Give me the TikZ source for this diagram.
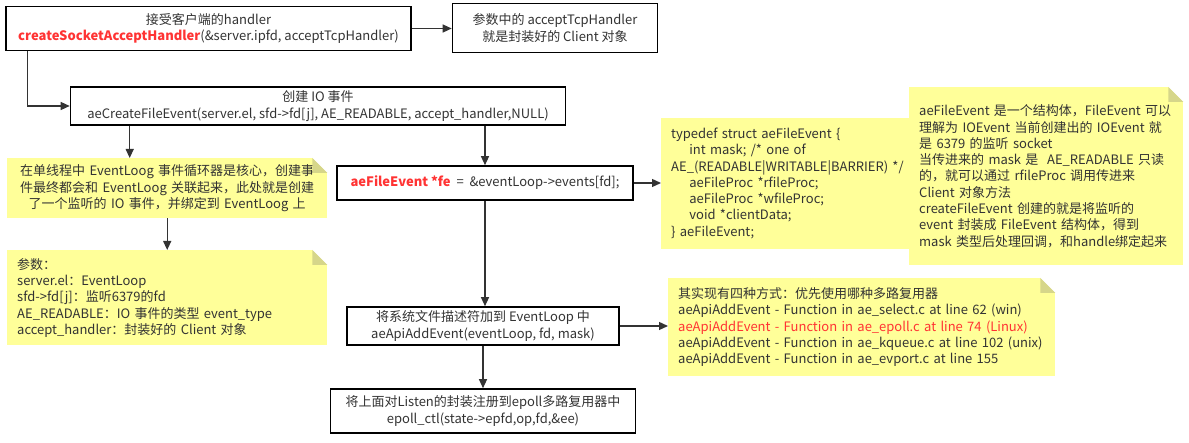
\documentclass[tikz,border=0pt]{standalone}
\usepackage{fontspec}
\setmainfont{Noto Sans CJK SC}
\usetikzlibrary{arrows.meta}

\definecolor{notefill}{HTML}{FFFF99}
\definecolor{notefold}{HTML}{D6D68A}
\definecolor{txtgray}{HTML}{333333}
\definecolor{hired}{HTML}{FF3333}

% folded top right corner of a note
\newcommand{\notefold}[1]{%
    \fill[white] (#1.north east) -- ++(-15,0) -- ++(15,15) -- cycle;
    \fill[notefold] ([xshift=-15pt]#1.north east) -- ++(0,15) -- ++(15,0) -- cycle;}

\begin{document}
\begin{tikzpicture}[x=1pt, y=-1pt,
    every node/.style={font=\fontsize{13}{16.3}\selectfont, text=txtgray},
    box/.style={draw=black, line width=1.6pt, fill=white, align=center, inner sep=0pt},
    note/.style={fill=notefill, inner xsep=10pt, inner ysep=0pt, align=left, anchor=north west},
    arr/.style={-{Triangle[length=9pt, width=8pt]}, line width=1.3pt, draw=txtgray}]
    \useasboundingbox (0,0) rectangle (1189,443);

    % Draw nodes
    \node[box, minimum width=405pt, minimum height=44pt] (b1) at (208.5,28.5)
        {接受客户端的handler\\{\bfseries\color{hired}createSocketAcceptHandler}(\&server.ipfd, acceptTcpHandler)};
    \node[box, minimum width=205pt, minimum height=49pt] (b2) at (555,28)
        {参数中的 acceptTcpHandler\\就是封装好的 Client 对象};
    \node[box, minimum width=495pt, minimum height=38pt] (b3) at (318,106)
        {创建 IO 事件\\aeCreateFileEvent(server.el, sfd->fd[j], AE\_READABLE, accept\_handler,NULL)};
    \node[box, minimum width=296pt, minimum height=34pt] (b4) at (485,183)
        {{\bfseries\color{hired}aeFileEvent *fe} \ = \ \&eventLoop->events[fd];};
    \node[box, minimum width=272pt, minimum height=38pt] (b5) at (483,326)
        {将系统文件描述符加到 EventLoop 中\\aeApiAddEvent(eventLoop, fd, mask)};
    \node[box, minimum width=305pt, minimum height=44pt] (b6) at (483,411)
        {将上面对Listen的封装注册到epoll多路复用器中\\epoll\_ctl(state->epfd,op,fd,\&ee)};

    % Notes
    \node[note, align=center, minimum width=320pt, minimum height=60pt, text width=300pt] (n1) at (7,158)
        {在单线程中 EventLoog 事件循环器是核心，创建事\\件最终都会和 EventLoog 关联起来，此处就是创建\\了一个监听的 IO 事件，并绑定到 EventLoog 上};
    \node[note, minimum height=95pt, text width=300pt] (n2) at (7,250)
        {参数：\\server.el：EventLoop\\sfd->fd[j]：监听6379的fd\\AE\_READABLE：IO 事件的类型 event\_type\\accept\_handler：封装好的 Client 对象};
    \node[note, minimum height=131pt, text width=242pt] (n3) at (661,118)
        {typedef struct aeFileEvent \{\\\hspace*{1.4em}int mask; /* one of\\AE\_(READABLE|WRITABLE|BARRIER) */\\\hspace*{1.4em}aeFileProc *rfileProc;\\\hspace*{1.4em}aeFileProc *wfileProc;\\\hspace*{1.4em}void *clientData;\\\} aeFileEvent;\vphantom{g}\\[24pt]};
    \node[note, minimum height=178pt, text width=254pt] (n5) at (909,87)
        {aeFileEvent 是一个结构体，FileEvent 可以\\理解为 IOEvent 当前创建出的 IOEvent 就\\是 6379 的监听 socket\\当传进来的 mask 是 \ AE\_READABLE 只读\\的，就可以通过 rfileProc 调用传进来\\Client 对象方法\\createFileEvent 创建的就是将监听的\\event 封装成 FileEvent 结构体，得到\\mask 类型后处理回调，和handle绑定起来};
    \node[note, minimum height=98pt, text width=367pt] (n4) at (668,278)
        {其实现有四种方式：优先使用哪种多路复用器\\aeApiAddEvent - Function in ae\_select.c at line 62 (win)\\{\color{hired}aeApiAddEvent - Function in ae\_epoll.c at line 74 (Linux)}\\aeApiAddEvent - Function in ae\_kqueue.c at line 102 (unix)\\aeApiAddEvent - Function in ae\_evport.c at line 155};
    \notefold{n1}
    \notefold{n2}
    \notefold{n5}
    \notefold{n4}

    % Draw connections
    \draw[arr] (b1.east) -- (b1.east -| b2.west);
    \draw[arr] ([xshift=22pt]b1.south west) |- (b3.west);
    \draw[arr] ([xshift=60pt]b3.south west) -- ([xshift=60pt]b3.south west |- n1.north);
    \draw[arr] (n1.south) -- (n2.north);
    \draw[arr] (b4.north |- b3.south) -- (b4.north);
    \draw[arr] (b4.east) -- (b4.east -| n3.west);
    \draw[arr] (b4.south) -- (b4.south |- b5.north);
    \draw[arr] (b5.east) -- (b5.east -| n4.west);
    \draw[arr] (b5.south) -- (b6.north);
\end{tikzpicture}
\end{document}
